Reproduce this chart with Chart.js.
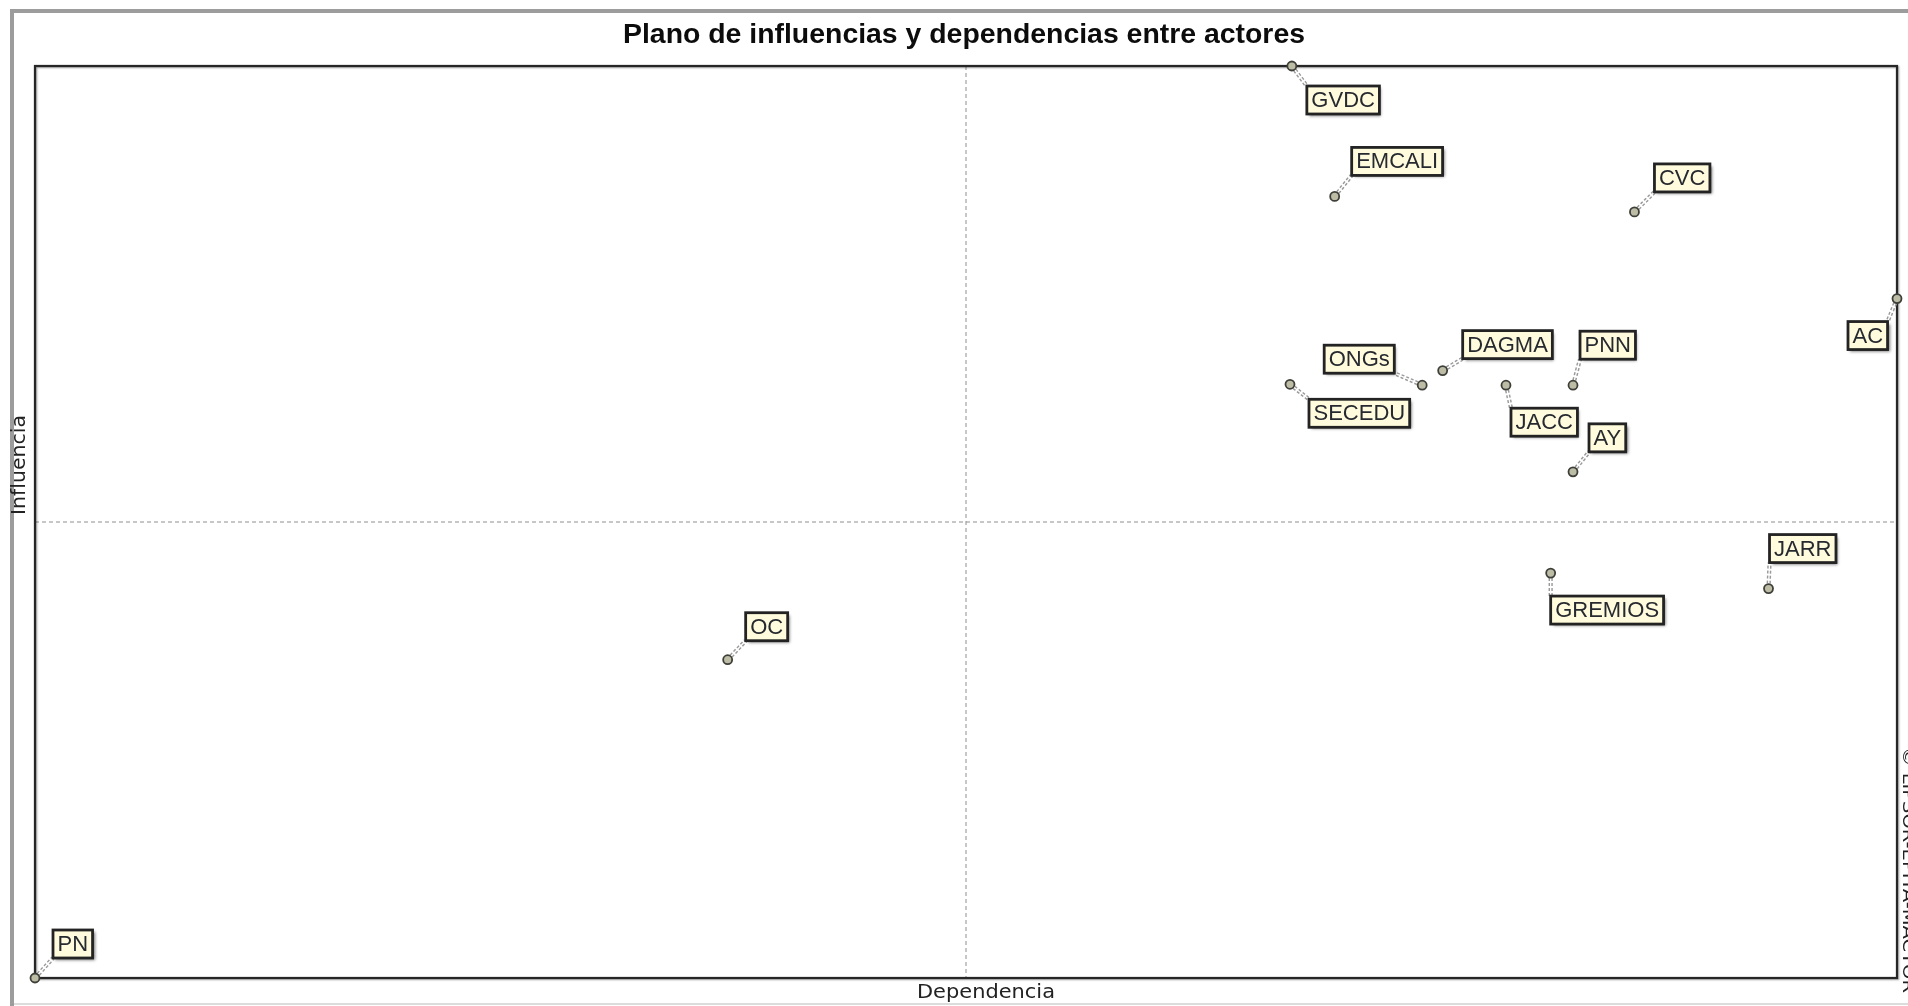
<!DOCTYPE html>
<html lang="es">
<head>
<meta charset="UTF-8">
<title>Plano de influencias y dependencias entre actores</title>
<script src="https://cdn.jsdelivr.net/npm/chart.js"></script>
<style>
  html, body { margin: 0; padding: 0; background: #fff; overflow: hidden; }
  .chart-container { position: relative; width: 1908px; height: 1006px; }
</style>
</head>
<body>
<div class="chart-container"><canvas id="mactorChart"></canvas></div>
<script>
const actores = ['GVDC', 'EMCALI', 'CVC', 'AC', 'ONGs', 'DAGMA', 'SECEDU', 'JACC', 'PNN', 'AY', 'GREMIOS', 'JARR', 'OC', 'PN'];
const dependencia = [67.5, 69.8, 85.9, 100, 74.5, 75.6, 67.4, 79.0, 82.6, 82.6, 81.4, 93.1, 37.2, 0];
const influencia = [100, 85.7, 84.0, 74.5, 65.0, 66.6, 65.1, 65.0, 65.0, 55.5, 44.4, 42.7, 34.9, 0];

// top-left corner of each label box, relative to its point (px)
const labelOffset = [[15, 20], [17, -49], [20, -48], [-49, 23], [-98, -40], [20, -40], [19, 15],
                     [5, 23], [7, -54], [16, -48], [0, 23], [1, -54], [18, -47], [18, -48]];

const labelFont = '22px "Liberation Sans", Arial, sans-serif';

// draw text stretched/squeezed to a given width
function fitText(ctx, text, x, y, w, rot) {
  ctx.save();
  ctx.translate(x, y);
  if (rot) ctx.rotate(rot);
  const m = ctx.measureText(text).width;
  ctx.scale(w / m, 1);
  ctx.textAlign = 'center';
  ctx.fillText(text, 0, 0);
  ctx.restore();
}

function labelBox(ctx, i, px, py) {
  ctx.font = labelFont;
  const w = ctx.measureText(actores[i]).width + 9;
  return { x: px + labelOffset[i][0], y: py + labelOffset[i][1], w: w, h: 28 };
}

const planoPlugin = {
  id: 'plano',
  beforeDraw(chart) {
    const ctx = chart.ctx;
    ctx.save();
    ctx.fillStyle = '#fff';
    ctx.fillRect(0, 0, chart.width, chart.height);

    // outer grey frame
    ctx.strokeStyle = '#9c9c9c';
    ctx.lineWidth = 4;
    ctx.beginPath();
    ctx.moveTo(12, 1010);
    ctx.lineTo(12, 11);
    ctx.lineTo(1912, 11);
    ctx.stroke();
    ctx.strokeStyle = '#dcdcdc';
    ctx.lineWidth = 2;
    ctx.beginPath();
    ctx.moveTo(14, 1004);
    ctx.lineTo(1908, 1004);
    ctx.stroke();

    // title (condensed bold)
    ctx.fillStyle = '#0c0c0c';
    ctx.textBaseline = 'alphabetic';
    ctx.font = 'bold 27px "Liberation Sans", Arial, sans-serif';
    fitText(ctx, 'Plano de influencias y dependencias entre actores', 964, 43, 682);

    // axis names
    ctx.fillStyle = '#222';
    ctx.textBaseline = 'middle';
    ctx.font = '19px "DejaVu Sans", sans-serif';
    fitText(ctx, 'Dependencia', 986, 993, 138);
    fitText(ctx, 'Influencia', 20, 465, 100, -Math.PI / 2);
    ctx.font = '15px "DejaVu Sans", sans-serif';
    fitText(ctx, '© LIPSOR-EPITA-MACTOR', 1907, 870, 246, Math.PI / 2);
    ctx.restore();
  },
  beforeDatasetsDraw(chart) {
    const ctx = chart.ctx;
    const a = chart.chartArea;
    const xs = chart.scales.x, ys = chart.scales.y;
    ctx.save();

    // dashed quadrant lines
    const mx = xs.getPixelForValue((xs.min + xs.max) / 2);
    const my = ys.getPixelForValue((ys.min + ys.max) / 2);
    ctx.strokeStyle = '#8f8f8f';
    ctx.lineWidth = 1;
    ctx.setLineDash([4, 3]);
    ctx.beginPath();
    ctx.moveTo(mx, a.top);
    ctx.lineTo(mx, a.bottom);
    ctx.moveTo(a.left, my);
    ctx.lineTo(a.right, my);
    ctx.stroke();
    ctx.setLineDash([]);

    // plot frame
    ctx.shadowColor = 'rgba(0,0,0,0.4)';
    ctx.shadowBlur = 2;
    ctx.shadowOffsetX = 1;
    ctx.shadowOffsetY = 1;
    ctx.strokeStyle = '#262626';
    ctx.lineWidth = 2.2;
    ctx.strokeRect(a.left, a.top, a.right - a.left, a.bottom - a.top);
    ctx.shadowColor = 'transparent';

    // leader lines from point to label
    const meta = chart.getDatasetMeta(0);
    meta.data.forEach((pt, i) => {
      const b = labelBox(ctx, i, pt.x, pt.y);
      const tx = Math.min(Math.max(pt.x, b.x), b.x + b.w);
      const ty = Math.min(Math.max(pt.y, b.y), b.y + b.h);
      ctx.setLineDash([3, 2]);
      ctx.strokeStyle = '#9a9a9a';
      ctx.lineWidth = 4.2;
      ctx.beginPath();
      ctx.moveTo(pt.x, pt.y);
      ctx.lineTo(tx, ty);
      ctx.stroke();
      ctx.setLineDash([]);
      ctx.strokeStyle = '#fff';
      ctx.lineWidth = 1.3;
      ctx.beginPath();
      ctx.moveTo(pt.x, pt.y);
      ctx.lineTo(tx, ty);
      ctx.stroke();
    });
    ctx.restore();
  },
  afterDatasetsDraw(chart) {
    const ctx = chart.ctx;
    const meta = chart.getDatasetMeta(0);
    ctx.save();
    meta.data.forEach((pt, i) => {
      const b = labelBox(ctx, i, pt.x, pt.y);
      ctx.shadowColor = 'rgba(0,0,0,0.55)';
      ctx.shadowBlur = 3;
      ctx.shadowOffsetX = 2;
      ctx.shadowOffsetY = 2;
      ctx.fillStyle = '#fffbdc';
      ctx.fillRect(b.x, b.y, b.w, b.h);
      ctx.shadowColor = 'transparent';
      ctx.strokeStyle = '#232323';
      ctx.lineWidth = 2.8;
      ctx.strokeRect(b.x, b.y, b.w, b.h);
      ctx.fillStyle = '#262a30';
      ctx.textAlign = 'center';
      ctx.textBaseline = 'middle';
      ctx.fillText(actores[i], b.x + b.w / 2, b.y + b.h / 2 + 1);
    });
    ctx.restore();
  }
};

const ctx = document.getElementById('mactorChart').getContext('2d');
new Chart(ctx, {
  type: 'scatter',
  data: {
    datasets: [{
      label: 'Actores',
      data: actores.map((a, i) => ({ x: dependencia[i], y: influencia[i] })),
      pointRadius: 4.5,
      pointHoverRadius: 4.5,
      pointBackgroundColor: '#bdbda6',
      pointBorderColor: '#3f3f3a',
      pointBorderWidth: 1.8,
      clip: false
    }]
  },
  options: {
    responsive: true,
    maintainAspectRatio: false,
    animation: false,
    layout: { padding: { left: 35, right: 11, top: 66, bottom: 28 } },
    scales: {
      x: { display: false, min: 0, max: 100 },
      y: { display: false, min: 0, max: 100 }
    },
    plugins: {
      legend: { display: false },
      tooltip: { enabled: false },
      title: { display: false }
    }
  },
  plugins: [planoPlugin]
});
</script>
</body>
</html>
